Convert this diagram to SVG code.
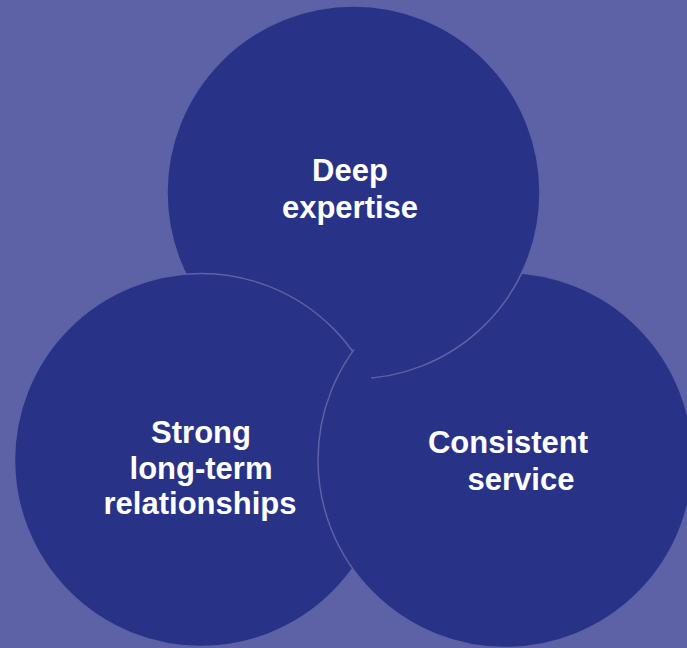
<svg xmlns="http://www.w3.org/2000/svg" width="687" height="648" viewBox="0 0 687 648">
<style>
.c{fill:#283286;stroke:#5c62a5;stroke-width:1.5}
.t{font-family:"Liberation Sans",Arial,sans-serif;font-weight:bold;font-size:31px;fill:#ffffff;text-anchor:middle}
</style>
<defs>
<clipPath id="clipLeft"><circle cx="201" cy="460" r="189"/></clipPath>
</defs>
<rect width="687" height="648" fill="#5c62a5"/>
<g id="circles">
<circle class="c" cx="505.5" cy="460" r="187.5"/>
<circle class="c" cx="353.5" cy="192.5" r="186.5"/>
<circle class="c" cx="201" cy="460" r="186.5"/>
<circle class="c" cx="505.5" cy="460" r="187.5" clip-path="url(#clipLeft)"/>
</g>
<g id="node-expertise">
<text class="t" x="350" y="181">Deep</text>
<text class="t" x="350" y="218">expertise</text>
</g>
<g id="node-relationships">
<text class="t" x="201" y="443">Strong</text>
<text class="t" x="201" y="479">long-term</text>
<text class="t" x="200" y="514">relationships</text>
</g>
<g id="node-service">
<text class="t" x="508" y="453">Consistent</text>
<text class="t" x="521" y="490">service</text>
</g>
</svg>
